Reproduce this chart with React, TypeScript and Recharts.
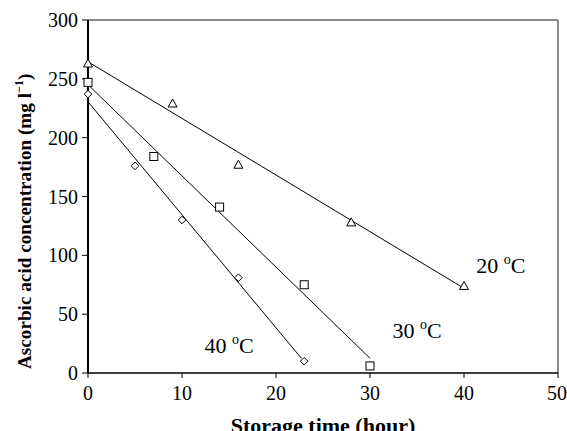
import {
  ComposedChart,
  Line,
  Scatter,
  XAxis,
  YAxis,
  ReferenceLine,
  ReferenceDot,
  Label,
} from "recharts";

// measured points (storage time in hours, ascorbic acid mg/l)
const t20 = [
  { x: 0, y: 263 },
  { x: 9, y: 229 },
  { x: 16, y: 177 },
  { x: 28, y: 128 },
  { x: 40, y: 74 },
];
const t30 = [
  { x: 0, y: 247 },
  { x: 7, y: 184 },
  { x: 14, y: 141 },
  { x: 23, y: 75 },
  { x: 30, y: 6 },
];
const t40 = [
  { x: 0, y: 237 },
  { x: 5, y: 176 },
  { x: 10, y: 130 },
  { x: 16, y: 81 },
  { x: 23, y: 10 },
];

// fitted lines, end points
const fit20 = [
  { x: 0, y: 264.5 },
  { x: 40, y: 72 },
];
const fit30 = [
  { x: 0, y: 245 },
  { x: 30, y: 12.5 },
];
const fit40 = [
  { x: 0, y: 230.5 },
  { x: 22.7, y: 12.5 },
];

const xTicks = [0, 10, 20, 30, 40, 50];
const yTicks = [0, 50, 100, 150, 200, 250, 300];

const tempLabels = [
  { x: 41.3, y: 85, t: "20" },
  { x: 32.4, y: 29.5, t: "30" },
  { x: 12.4, y: 17.2, t: "40" },
];

const FONT = "'Liberation Serif', 'Times New Roman', serif";

const Triangle = (p: any) => (
  <path
    d={`M${p.cx},${p.cy - 4.5} L${p.cx + 4.5},${p.cy + 3.5} L${p.cx - 4.5},${p.cy + 3.5} Z`}
    fill="#fff"
    stroke="#000"
    strokeWidth={1}
  />
);
const Square = (p: any) => (
  <rect x={p.cx - 4} y={p.cy - 4} width={8} height={8} fill="#fff" stroke="#000" strokeWidth={1} />
);
const Diamond = (p: any) => (
  <path
    d={`M${p.cx},${p.cy - 3.8} L${p.cx + 3.8},${p.cy} L${p.cx},${p.cy + 3.8} L${p.cx - 3.8},${p.cy} Z`}
    fill="#fff"
    stroke="#000"
    strokeWidth={1}
  />
);

const TempText = (t: string) => (p: any) => (
  <text x={p.cx} y={p.cy} fontFamily={FONT} fontSize={22} fill="#000">
    {t + " "}
    <tspan fontSize={14} dy={-9}>o</tspan>
    <tspan dy={9}>C</tspan>
  </text>
);

export default function App() {
  const tick = { fill: "#000", fontSize: 20, fontFamily: FONT };
  return (
    <div style={{ position: "absolute", left: 0, top: 0, background: "#fff" }}>
      <ComposedChart width={567} height={431} margin={{ top: 20, right: 9, bottom: 0, left: 0 }}>
        <XAxis
          type="number"
          dataKey="x"
          domain={[0, 50]}
          ticks={xTicks}
          tick={tick}
          tickSize={5}
          tickMargin={8}
          height={58}
          axisLine={{ stroke: "#000", strokeWidth: 1.5 }}
          tickLine={{ stroke: "#000" }}
        >
          <Label
            content={(props: any) => {
              const vb = props.viewBox;
              return (
                <text
                  x={vb.x + vb.width / 2}
                  y={433}
                  textAnchor="middle"
                  fontFamily={FONT}
                  fontWeight="bold"
                  fontSize={22}
                  fill="#000"
                >
                  Storage time (hour)
                </text>
              );
            }}
          />
        </XAxis>
        <YAxis
          type="number"
          dataKey="y"
          domain={[0, 300]}
          ticks={yTicks}
          tick={tick}
          tickSize={6}
          tickMargin={4}
          width={88}
          axisLine={{ stroke: "#000", strokeWidth: 2 }}
          tickLine={{ stroke: "#000" }}
        >
          <Label
            content={() => (
              <text
                transform="translate(31,369) rotate(-90)"
                textAnchor="start"
                fontFamily={FONT}
                fontWeight="bold"
                fontSize={19.2}
                fill="#000"
              >
                Ascorbic acid concentration (mg l
                <tspan fontSize={12} dy={-8}>−1</tspan>
                <tspan dy={8}>)</tspan>
              </text>
            )}
          />
        </YAxis>
        <ReferenceLine y={300} stroke="#888" strokeWidth={2} />
        <ReferenceLine x={50} stroke="#888" strokeWidth={2} />
        <Line data={fit20} dataKey="y" stroke="#000" strokeWidth={1} dot={false} isAnimationActive={false} />
        <Line data={fit30} dataKey="y" stroke="#000" strokeWidth={1} dot={false} isAnimationActive={false} />
        <Line data={fit40} dataKey="y" stroke="#000" strokeWidth={1} dot={false} isAnimationActive={false} />
        <Scatter data={t20} dataKey="y" shape={Triangle} isAnimationActive={false} />
        <Scatter data={t30} dataKey="y" shape={Square} isAnimationActive={false} />
        <Scatter data={t40} dataKey="y" shape={Diamond} isAnimationActive={false} />
        {tempLabels.map((l) => (
          <ReferenceDot key={l.t} x={l.x} y={l.y} r={0} shape={TempText(l.t)} />
        ))}
      </ComposedChart>
    </div>
  );
}
